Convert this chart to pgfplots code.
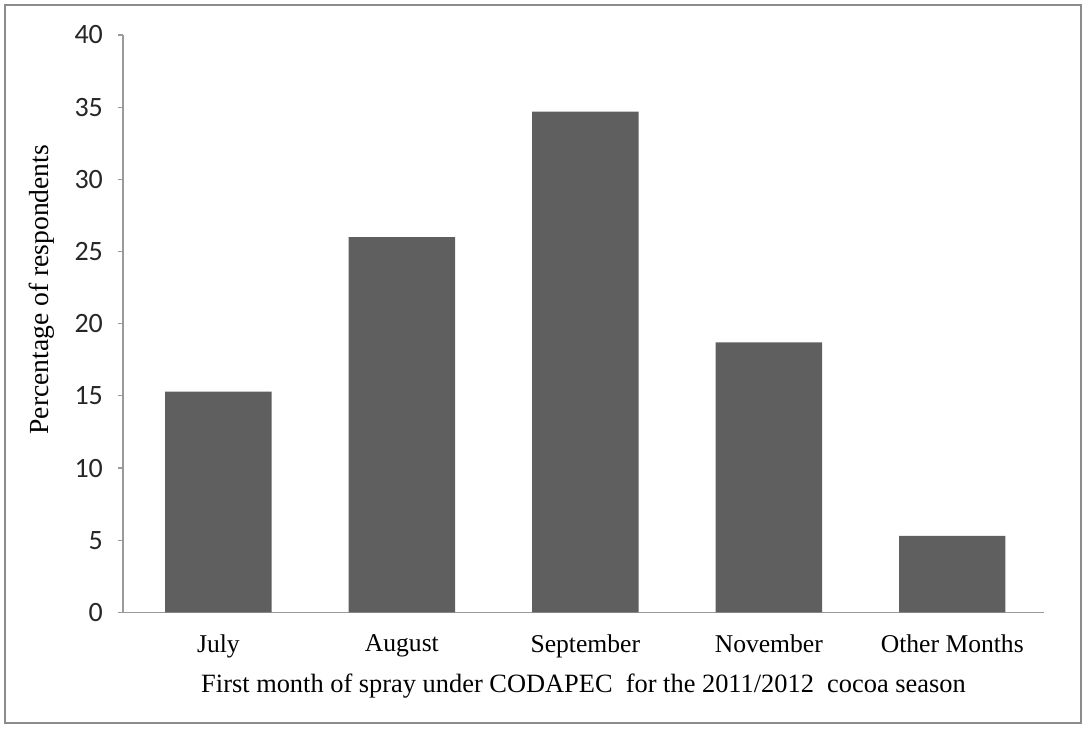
\documentclass[border=0pt]{standalone}
\usepackage{pgfplots}
\pgfplotsset{compat=1.18}
\usepackage{fontspec}
\setmainfont{Liberation Serif}
\newfontfamily\tickfont{Carlito}
\definecolor{barfill}{HTML}{5F5F5F}
\definecolor{axgray}{HTML}{9A9A9A}
\definecolor{framegray}{HTML}{8C8C8C}

\begin{document}
\begin{tikzpicture}
  % whole picture area and grey frame (pixel/2 in pt, origin at axis corner)
  \path (-61.5pt,-57.9pt) rectangle (481.5pt,306.2pt);
  \draw[framegray, line width=1.2pt] (-59pt,-55.4pt) rectangle (479pt,303.6pt);

  \begin{axis}[
    scale only axis,
    width=460.5pt, height=288.7pt,
    xmin=-0.52, xmax=4.5,
    ymin=0, ymax=40,
    axis x line*=bottom,
    axis y line*=left,
    axis line style={axgray, line width=0.6pt},
    ytick={0,5,...,40},
    xtick=data,
    xticklabels={July,August,September,November,Other Months},
    x tick label style={font=\fontsize{12.8}{14}\selectfont, yshift=-5pt},
    y tick label style={font=\tickfont\fontsize{14}{16}\selectfont, xshift=-4pt, text=black!85},
    /pgf/number format/assume math mode=true,
    major x tick style={draw=none},
    major y tick style={axgray, line width=0.6pt},
    tick align=outside,
    major tick length=2.5pt,
    xlabel={First month of spray under CODAPEC\ \ for the 2011/2012\ \ cocoa season},
    ylabel={Percentage of respondents},
    xlabel style={font=\fontsize{13.2}{15}\selectfont, at={(axis description cs:0.5,0)}, anchor=center, yshift=-36.9pt},
    ylabel style={font=\fontsize{13.8}{15}\selectfont, at={(axis description cs:0,0.5)}, anchor=center, yshift=40.5pt, xshift=17pt},
    ybar, bar width=0.58,
    clip=false,
  ]
    \addplot[fill=barfill, draw=none] coordinates {
      (0,15.3) (1,26.0) (2,34.7) (3,18.7) (4,5.3)
    };
  \end{axis}
\end{tikzpicture}
\end{document}
